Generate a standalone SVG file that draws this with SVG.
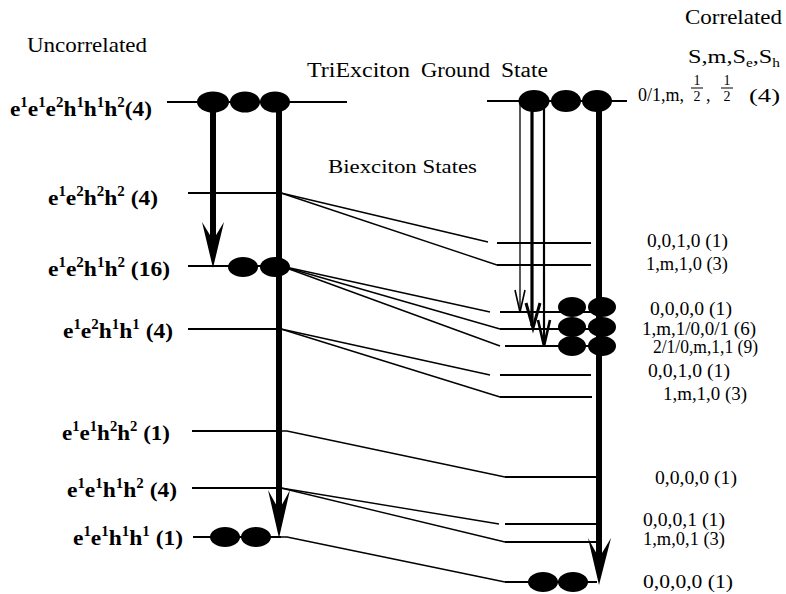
<svg xmlns="http://www.w3.org/2000/svg" width="786" height="594" viewBox="0 0 786 594">
<style>
.lvl{stroke:#000;stroke-width:2;fill:none}
.con{stroke:#000;stroke-width:1.4;fill:none}
.shaft{stroke:#000;stroke-width:6;fill:none}
.ov{fill:#000}
.ah{fill:#000}
.t{font-family:"Liberation Serif","Times New Roman",serif;fill:#000}
.lab{font-family:"Liberation Serif","Times New Roman",serif;font-size:22px;font-weight:bold;fill:#000}
.sup{font-size:14px}
.rl{font-family:"Liberation Serif","Times New Roman",serif;font-size:18px;fill:#000}
.fr{font-family:"Liberation Serif","Times New Roman",serif;font-size:14px;fill:#000}
</style>
<rect width="786" height="594" fill="#fff"/>

<!-- Titles -->
<text class="t" x="27" y="52" font-size="22" textLength="120" lengthAdjust="spacingAndGlyphs">Uncorrelated</text>
<text class="t" font-size="20"><tspan x="307" y="77" textLength="103" lengthAdjust="spacingAndGlyphs">TriExciton</tspan><tspan x="421" y="77" textLength="69" lengthAdjust="spacingAndGlyphs">Ground</tspan><tspan x="501" y="77" textLength="47" lengthAdjust="spacingAndGlyphs">State</tspan></text>
<text class="t" x="328" y="173" font-size="19" textLength="149" lengthAdjust="spacingAndGlyphs">Biexciton States</text>
<text class="t" x="685" y="24" font-size="21" textLength="97" lengthAdjust="spacingAndGlyphs">Correlated</text>
<text class="t" x="688" y="63" font-size="19" textLength="92" lengthAdjust="spacingAndGlyphs">S,m,S<tspan font-size="12" dy="4">e</tspan><tspan dy="-4">,S</tspan><tspan font-size="12" dy="4">h</tspan></text>

<!-- Connectors -->
<g id="connectors">
  <!-- thick transitions (left, uncorrelated) -->
  <line class="shaft" x1="213" y1="102" x2="213" y2="242"/>
  <polygon class="ah" points="213,268 202,222 213,240 224,222"/>
  <line class="shaft" x1="279" y1="102" x2="279" y2="512"/>
  <polygon class="ah" points="279,538 268,490 279,510 290,490"/>
  <!-- thick transition (right, correlated) -->
  <line class="shaft" x1="599" y1="101" x2="599" y2="560"/>
  <polygon class="ah" points="599,585 588,538 599,558 611,538"/>
  <!-- thin transitions (right) -->
  <line stroke="#000" stroke-width="1.3" x1="520" y1="101" x2="520" y2="311"/>
  <polyline fill="none" stroke="#000" stroke-width="1.6" points="515,290 520,312 525,290"/>
  <line stroke="#000" stroke-width="3.2" x1="532" y1="101" x2="532" y2="326"/>
  <polyline fill="none" stroke="#000" stroke-width="3" points="526,303 533,328 540,303"/>
  <line stroke="#000" stroke-width="2.2" x1="544" y1="101" x2="544" y2="344"/>
  <polyline fill="none" stroke="#000" stroke-width="2.6" points="538,320 544,346 550,320"/>
  <!-- correlation lines -->
  <line class="con" x1="281" y1="193" x2="488" y2="242"/>
  <line class="con" x1="281" y1="193" x2="497" y2="265"/>
  <line class="con" x1="281" y1="266" x2="490" y2="312"/>
  <line class="con" x1="281" y1="266" x2="500" y2="329"/>
  <line class="con" x1="281" y1="266" x2="500" y2="346"/>
  <line class="con" x1="281" y1="329" x2="490" y2="375"/>
  <line class="con" x1="281" y1="329" x2="500" y2="397"/>
  <polyline class="con" points="281,431 287,431 505,477"/>
  <line class="con" x1="281" y1="488" x2="499" y2="524"/>
  <line class="con" x1="281" y1="488" x2="505" y2="542"/>
  <polyline class="con" points="281,537 287,537 505,582"/>
</g>

<!-- Left (uncorrelated) levels -->
<g id="L0">
  <line class="lvl" x1="167" y1="102" x2="347" y2="102"/>
  <ellipse class="ov" cx="213" cy="102" rx="16" ry="10.5"/>
  <ellipse class="ov" cx="245" cy="102" rx="15" ry="10.5"/>
  <ellipse class="ov" cx="275" cy="102" rx="15" ry="10.5"/>
  <text class="lab" x="10" y="116" textLength="142" lengthAdjust="spacingAndGlyphs">e<tspan class="sup" dy="-9">1</tspan><tspan dy="9">e</tspan><tspan class="sup" dy="-9">1</tspan><tspan dy="9">e</tspan><tspan class="sup" dy="-9">2</tspan><tspan dy="9">h</tspan><tspan class="sup" dy="-9">1</tspan><tspan dy="9">h</tspan><tspan class="sup" dy="-9">1</tspan><tspan dy="9">h</tspan><tspan class="sup" dy="-9">2</tspan><tspan dy="9">(4)</tspan></text>
</g>
<g id="L1">
  <line class="lvl" x1="188" y1="193" x2="281" y2="193"/>
  <text class="lab" x="48" y="205" textLength="110" lengthAdjust="spacingAndGlyphs">e<tspan class="sup" dy="-9">1</tspan><tspan dy="9">e</tspan><tspan class="sup" dy="-9">2</tspan><tspan dy="9">h</tspan><tspan class="sup" dy="-9">2</tspan><tspan dy="9">h</tspan><tspan class="sup" dy="-9">2</tspan><tspan dy="9"> (4)</tspan></text>
</g>
<g id="L2">
  <line class="lvl" x1="188" y1="266" x2="281" y2="266"/>
  <ellipse class="ov" cx="243" cy="267" rx="15" ry="10"/>
  <ellipse class="ov" cx="275" cy="267" rx="15" ry="10"/>
  <text class="lab" x="48" y="276" textLength="122" lengthAdjust="spacingAndGlyphs">e<tspan class="sup" dy="-9">1</tspan><tspan dy="9">e</tspan><tspan class="sup" dy="-9">2</tspan><tspan dy="9">h</tspan><tspan class="sup" dy="-9">1</tspan><tspan dy="9">h</tspan><tspan class="sup" dy="-9">2</tspan><tspan dy="9"> (16)</tspan></text>
</g>
<g id="L3">
  <line class="lvl" x1="188" y1="329" x2="281" y2="329"/>
  <text class="lab" x="63" y="338" textLength="110" lengthAdjust="spacingAndGlyphs">e<tspan class="sup" dy="-9">1</tspan><tspan dy="9">e</tspan><tspan class="sup" dy="-9">2</tspan><tspan dy="9">h</tspan><tspan class="sup" dy="-9">1</tspan><tspan dy="9">h</tspan><tspan class="sup" dy="-9">1</tspan><tspan dy="9"> (4)</tspan></text>
</g>
<g id="L4">
  <line class="lvl" x1="192" y1="431" x2="281" y2="431"/>
  <text class="lab" x="62" y="440" textLength="108" lengthAdjust="spacingAndGlyphs">e<tspan class="sup" dy="-9">1</tspan><tspan dy="9">e</tspan><tspan class="sup" dy="-9">1</tspan><tspan dy="9">h</tspan><tspan class="sup" dy="-9">2</tspan><tspan dy="9">h</tspan><tspan class="sup" dy="-9">2</tspan><tspan dy="9"> (1)</tspan></text>
</g>
<g id="L5">
  <line class="lvl" x1="192" y1="488" x2="281" y2="488"/>
  <text class="lab" x="67" y="497" textLength="110" lengthAdjust="spacingAndGlyphs">e<tspan class="sup" dy="-9">1</tspan><tspan dy="9">e</tspan><tspan class="sup" dy="-9">1</tspan><tspan dy="9">h</tspan><tspan class="sup" dy="-9">1</tspan><tspan dy="9">h</tspan><tspan class="sup" dy="-9">2</tspan><tspan dy="9"> (4)</tspan></text>
</g>
<g id="L6">
  <line class="lvl" x1="193" y1="537" x2="281" y2="537"/>
  <ellipse class="ov" cx="225" cy="537" rx="15" ry="10"/>
  <ellipse class="ov" cx="256" cy="537" rx="15" ry="10"/>
  <text class="lab" x="73" y="545" textLength="110" lengthAdjust="spacingAndGlyphs">e<tspan class="sup" dy="-9">1</tspan><tspan dy="9">e</tspan><tspan class="sup" dy="-9">1</tspan><tspan dy="9">h</tspan><tspan class="sup" dy="-9">1</tspan><tspan dy="9">h</tspan><tspan class="sup" dy="-9">1</tspan><tspan dy="9"> (1)</tspan></text>
</g>

<!-- Right (correlated) levels -->
<g id="R0">
  <line class="lvl" x1="487" y1="101" x2="627" y2="101"/>
  <ellipse class="ov" cx="534" cy="101" rx="15.5" ry="11"/>
  <ellipse class="ov" cx="566" cy="101" rx="15" ry="11"/>
  <ellipse class="ov" cx="597" cy="101" rx="15" ry="11"/>
  <text class="rl" x="638" y="101" textLength="46" lengthAdjust="spacingAndGlyphs">0/1,m,</text>
  <text class="fr" x="697" y="85" text-anchor="middle">1</text>
  <line stroke="#000" stroke-width="1" x1="691" y1="88" x2="703" y2="88"/>
  <text class="fr" x="697" y="101" text-anchor="middle">2</text>
  <text class="rl" x="706" y="101">,</text>
  <text class="fr" x="727" y="85" text-anchor="middle">1</text>
  <line stroke="#000" stroke-width="1" x1="721" y1="88" x2="733" y2="88"/>
  <text class="fr" x="727" y="101" text-anchor="middle">2</text>
  <text class="rl" x="749" y="102" textLength="31" lengthAdjust="spacingAndGlyphs">(4)</text>
</g>
<g id="R1">
  <line class="lvl" x1="497" y1="243" x2="591" y2="243"/>
  <text class="rl" x="647" y="247" textLength="81" lengthAdjust="spacingAndGlyphs">0,0,1,0 (1)</text>
</g>
<g id="R2">
  <line class="lvl" x1="497" y1="265" x2="591" y2="265"/>
  <text class="rl" x="646" y="270" textLength="82" lengthAdjust="spacingAndGlyphs">1,m,1,0 (3)</text>
</g>
<g id="R3">
  <line class="lvl" x1="500" y1="312" x2="600" y2="312"/>
  <text class="rl" x="650" y="315" textLength="82" lengthAdjust="spacingAndGlyphs">0,0,0,0 (1)</text>
</g>
<g id="R4">
  <line class="lvl" x1="500" y1="329" x2="600" y2="329"/>
  <text class="rl" x="642" y="335" textLength="114" lengthAdjust="spacingAndGlyphs">1,m,1/0,0/1 (6)</text>
</g>
<g id="R5">
  <line class="lvl" x1="505" y1="346" x2="600" y2="346"/>
  <text class="rl" x="653" y="353" textLength="105" lengthAdjust="spacingAndGlyphs">2/1/0,m,1,1 (9)</text>
</g>
<g id="R-cluster">
  <ellipse class="ov" cx="572" cy="307" rx="14" ry="10"/>
  <ellipse class="ov" cx="602" cy="307" rx="14" ry="10"/>
  <ellipse class="ov" cx="572" cy="327" rx="14" ry="10"/>
  <ellipse class="ov" cx="602" cy="327" rx="14" ry="10"/>
  <ellipse class="ov" cx="572" cy="346" rx="14" ry="10"/>
  <ellipse class="ov" cx="602" cy="346" rx="14" ry="10"/>
</g>
<g id="R6">
  <line class="lvl" x1="500" y1="375" x2="591" y2="375"/>
  <text class="rl" x="648" y="377" textLength="82" lengthAdjust="spacingAndGlyphs">0,0,1,0 (1)</text>
</g>
<g id="R7">
  <line class="lvl" x1="500" y1="397" x2="592" y2="397"/>
  <text class="rl" x="663" y="400" textLength="84" lengthAdjust="spacingAndGlyphs">1,m,1,0 (3)</text>
</g>
<g id="R8">
  <line class="lvl" x1="505" y1="477" x2="597" y2="477"/>
  <text class="rl" x="655" y="484" textLength="82" lengthAdjust="spacingAndGlyphs">0,0,0,0 (1)</text>
</g>
<g id="R9">
  <line class="lvl" x1="505" y1="524" x2="597" y2="524"/>
  <text class="rl" x="643" y="526" textLength="82" lengthAdjust="spacingAndGlyphs">0,0,0,1 (1)</text>
</g>
<g id="R10">
  <line class="lvl" x1="505" y1="542" x2="597" y2="542"/>
  <text class="rl" x="643" y="545" textLength="82" lengthAdjust="spacingAndGlyphs">1,m,0,1 (3)</text>
</g>
<g id="R11">
  <line class="lvl" x1="505" y1="582" x2="597" y2="582"/>
  <ellipse class="ov" cx="543" cy="582" rx="15" ry="10"/>
  <ellipse class="ov" cx="573" cy="582" rx="15" ry="10"/>
  <text class="rl" x="643" y="588" textLength="90" lengthAdjust="spacingAndGlyphs">0,0,0,0 (1)</text>
</g>
</svg>
